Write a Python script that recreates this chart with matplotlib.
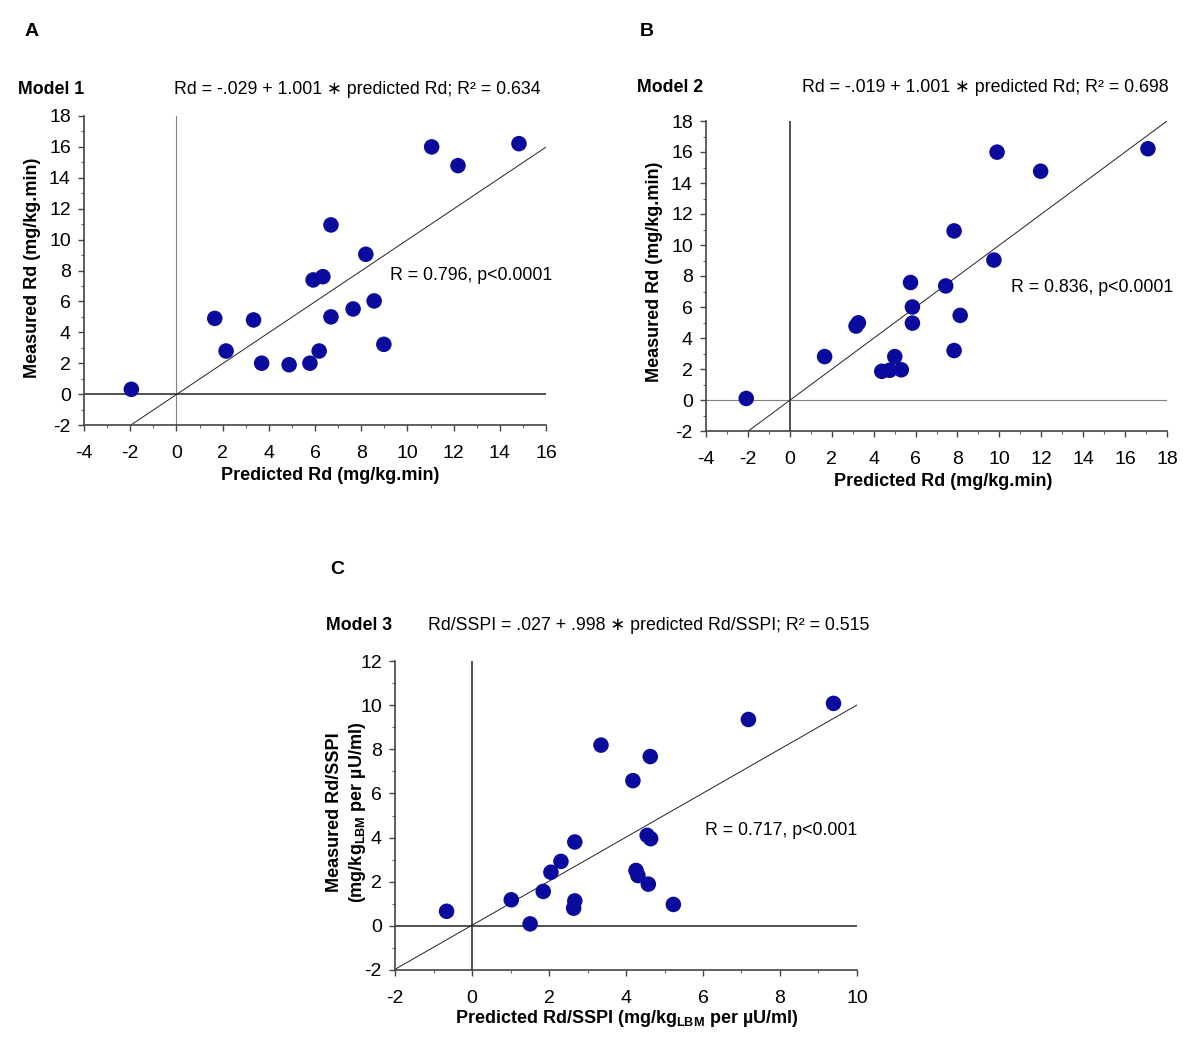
import matplotlib
matplotlib.use("Agg")
import matplotlib.pyplot as plt
from matplotlib.ticker import MultipleLocator

plt.rcParams['font.family'] = ['Liberation Sans', 'DejaVu Sans']
plt.rcParams['mathtext.fontset'] = 'custom'
plt.rcParams['mathtext.rm'] = 'Liberation Sans'
plt.rcParams['mathtext.bf'] = 'Liberation Sans:bold'
plt.rcParams['axes.unicode_minus'] = False

# model 1
pred1 = [-1.95, 1.66, 2.15, 3.34, 3.69, 4.88, 5.78, 6.18, 5.92, 6.34,
         6.69, 6.69, 7.65, 8.20, 8.56, 8.98, 11.05, 12.19, 14.83]
meas1 = [0.31, 4.90, 2.79, 4.80, 2.00, 1.90, 2.00, 2.79, 7.39, 7.60,
         10.95, 5.00, 5.51, 9.05, 6.03, 3.22, 16.00, 14.79, 16.21]

# model 2
pred2 = [-2.08, 1.66, 3.16, 3.27, 4.39, 4.77, 5.01, 5.32, 5.76, 5.85,
         5.85, 7.44, 7.84, 7.84, 8.13, 9.74, 9.89, 11.97, 17.09]
meas2 = [0.10, 2.80, 4.77, 4.98, 1.85, 1.92, 2.80, 1.95, 7.58, 6.00,
         4.96, 7.36, 10.91, 3.19, 5.46, 9.03, 15.99, 14.76, 16.21]

# model 3 (Rd/SSPI)
pred3 = [-0.66, 1.02, 1.51, 1.85, 2.05, 2.31, 2.67, 2.67, 2.64, 3.35,
         4.18, 4.63, 4.55, 4.64, 4.26, 4.31, 4.58, 5.23, 7.18, 9.39]
meas3 = [0.66, 1.18, 0.09, 1.56, 2.43, 2.92, 3.80, 1.13, 0.80, 8.19,
         6.58, 7.67, 4.10, 3.95, 2.51, 2.28, 1.89, 0.97, 9.35, 10.08]

intercepts = [-0.029, -0.019, 0.027]
slopes = [1.001, 1.001, 0.998]
equations = ["Rd = -.029 + 1.001 \u2217 predicted Rd; R\u00b2 = 0.634",
             "Rd = -.019 + 1.001 \u2217 predicted Rd; R\u00b2 = 0.698",
             "Rd/SSPI = .027 + .998 \u2217 predicted Rd/SSPI; R\u00b2 = 0.515"]
r_texts = ["R = 0.796, p<0.0001", "R = 0.836, p<0.0001", "R = 0.717, p<0.001"]
models = ["Model 1", "Model 2", "Model 3"]
letters = ["A", "B", "C"]

W, H = 1200, 1040
fig = plt.figure(figsize=(12, 10.4), dpi=100)


def px_axes(x0, y0, x1, y1):
    return fig.add_axes([x0 / W, 1 - y1 / H, (x1 - x0) / W, (y1 - y0) / H])


def style(ax, xlim, ylim):
    ax.set_xlim(*xlim)
    ax.set_ylim(*ylim)
    for s in ['top', 'right']:
        ax.spines[s].set_visible(False)
    for s in ['left', 'bottom']:
        ax.spines[s].set_color('#444444')
        ax.spines[s].set_linewidth(1.2)
    ax.xaxis.set_major_locator(MultipleLocator(2))
    ax.xaxis.set_minor_locator(MultipleLocator(1))
    ax.yaxis.set_major_locator(MultipleLocator(2))
    ax.yaxis.set_minor_locator(MultipleLocator(1))
    ax.tick_params(which='major', length=4.5, width=1, color='#444444',
                   labelsize=14)
    ax.tick_params(axis='x', which='major', pad=10)
    ax.tick_params(axis='y', which='major', pad=5)
    ax.tick_params(which='minor', length=2.5, width=0.8, color='#666666')


def panel(ax, x, y, k, xlim, ylim, vcol, hcol, rpos):
    style(ax, xlim, ylim)
    ax.axvline(0, color=vcol[0], lw=vcol[1], zorder=1)
    ax.axhline(0, color=hcol[0], lw=hcol[1], zorder=1)
    xs = [-2, xlim[1]]
    ax.plot(xs, [intercepts[k] + slopes[k] * v for v in xs],
            color='#222222', lw=0.7, zorder=2)
    ax.scatter(x, y, s=125, color='#0a0a9c', edgecolors='none', zorder=3)
    ax.text(rpos[0], rpos[1], r_texts[k], fontsize=12.8, va='center',
            ha='left', clip_on=False)


axA = px_axes(84, 116, 546, 425)
panel(axA, pred1, meas1, 0, (-4, 16), (-2, 18),
      ('#808080', 0.8), ('#333333', 1.2), (9.25, 7.7))
axA.set_xlabel("Predicted Rd (mg/kg.min)", fontsize=13, fontweight='bold')
axA.set_ylabel("Measured Rd (mg/kg.min)", fontsize=13, fontweight='bold')
axA.xaxis.set_label_coords(0.532, -0.135)
axA.yaxis.set_label_coords(-0.092, 0.51)

axB = px_axes(706, 121, 1167, 431)
panel(axB, pred2, meas2, 1, (-4, 18), (-2, 18),
      ('#333333', 1.2), ('#808080', 0.8), (10.56, 7.29))
axB.set_xlabel("Predicted Rd (mg/kg.min)", fontsize=13, fontweight='bold')
axB.set_ylabel("Measured Rd (mg/kg.min)", fontsize=13, fontweight='bold')
axB.xaxis.set_label_coords(0.514, -0.136)
axB.yaxis.set_label_coords(-0.093, 0.515)

axC = px_axes(395, 661, 857, 970)
panel(axC, pred3, meas3, 2, (-2, 10), (-2, 12),
      ('#333333', 1.2), ('#333333', 1.2), (6.05, 4.34))
axC.set_xlabel(r"Predicted Rd/SSPI (mg/kg$_{\mathbf{LBM}}$ per " + "\u00b5U/ml)",
               fontsize=13, fontweight='bold')
axC.set_ylabel("Measured Rd/SSPI\n" + r"(mg/kg$_{\mathbf{LBM}}$ per " + "\u00b5U/ml)",
               fontsize=13, fontweight='bold', linespacing=1.25)
axC.xaxis.set_label_coords(0.501, -0.123)
axC.yaxis.set_label_coords(-0.058, 0.51)

# headers
for (lx, ly), (mx, my), (ex, ey), k in [((25, 32), (18, 90), (541, 90), 0),
                                        ((640, 32), (637, 88), (1169, 88), 1),
                                        ((330, 570), (326, 626), (869, 626), 2)]:
    fig.text(lx / W, 1 - ly / H, letters[k], fontsize=14, fontweight='bold',
             ha='left', va='center')
    fig.text(mx / W, 1 - my / H, models[k], fontsize=12.8, fontweight='bold',
             ha='left', va='center')
    fig.text(ex / W, 1 - ey / H, equations[k], fontsize=12.8,
             ha='right', va='center')

fig.savefig("out.png", dpi=100, facecolor='white')
